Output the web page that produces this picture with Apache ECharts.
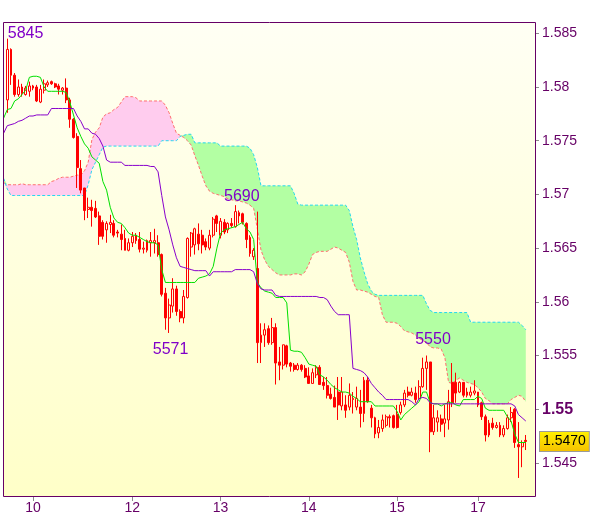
<!DOCTYPE html>
<html><head><meta charset="utf-8">
<script src="https://cdn.jsdelivr.net/npm/echarts@6/dist/echarts.min.js"></script>
<style>html,body{margin:0;padding:0;background:#fff;}#c{width:600px;height:519px;}</style>
</head><body><div id="c"></div>
<script>
// ---- axis labels ----
const dayLabels = ['10','12','13','14','15','17'];
const dayLabelSlots = [8,35,59,83,107,129];
const yTickValues = [1.545,1.55,1.555,1.56,1.565,1.57,1.575,1.58,1.585];
const boldTick = 1.55;
const lastPrice = 1.5470;

// ---- hourly candles (first slot is empty) ----
const opens = [1.5788,1.5835,1.5811,1.5793,1.5800,1.5793,1.5796,1.5801,1.5800,1.5786,
1.5797,1.5802,1.5805,1.5803,1.5801,1.5797,1.5799,1.5788,1.5770,1.5754,
1.5724,1.5706,1.5686,1.5688,1.5687,1.5680,1.5674,1.5667,1.5672,1.5673,
1.5665,1.5663,1.5659,1.5648,1.5655,1.5662,1.5658,1.5649,1.5648,1.5655,
1.5655,1.5655,1.5644,1.5608,1.5585,1.5596,1.5612,1.5591,1.5585,1.5604,
1.5651,1.5653,1.5663,1.5662,1.5656,1.5650,1.5662,1.5680,1.5662,1.5674,
1.5667,1.5673,1.5670,1.5683,1.5682,1.5673,1.5660,1.5642,1.5631,1.5562,
1.5569,1.5575,1.5562,1.5576,1.5544,1.5541,1.5559,1.5543,1.5541,1.5537,
1.5541,1.5538,1.5531,1.5524,1.5532,1.5539,1.5525,1.5522,1.5514,1.5511,
1.5516,1.5503,1.5504,1.5502,1.5509,1.5502,1.5502,1.5496,1.5527,1.5501,
1.5492,1.5478,1.5482,1.5485,1.5493,1.5494,1.5495,1.5497,1.5504,1.5516,
1.5513,1.5515,1.5510,1.5521,1.5538,1.5544,1.5479,1.5488,1.5491,1.5487,
1.5490,1.5525,1.5525,1.5516,1.5525,1.5516,1.5513,1.5515,1.5516,1.5506,
1.5493,1.5476,1.5487,1.5483,1.5485,1.5476,1.5482,1.5492,1.5500,1.5467,
1.5465,1.5471];
const closes = [1.5835,1.5811,1.5793,1.5800,1.5794,1.5799,1.5801,1.5799,1.5787,1.5798,
1.5803,1.5804,1.5803,1.5800,1.5798,1.5799,1.5788,1.5770,1.5753,1.5725,
1.5704,1.5685,1.5688,1.5685,1.5679,1.5661,1.5661,1.5673,1.5674,1.5662,
1.5664,1.5658,1.5648,1.5655,1.5661,1.5657,1.5649,1.5650,1.5657,1.5657,
1.5657,1.5644,1.5607,1.5585,1.5597,1.5612,1.5591,1.5585,1.5605,1.5659,
1.5664,1.5668,1.5654,1.5653,1.5651,1.5662,1.5677,1.5673,1.5675,1.5665,
1.5673,1.5671,1.5684,1.5680,1.5674,1.5658,1.5645,1.5648,1.5562,1.5569,
1.5574,1.5562,1.5576,1.5543,1.5541,1.5560,1.5542,1.5540,1.5537,1.5541,
1.5537,1.5530,1.5524,1.5534,1.5539,1.5523,1.5522,1.5513,1.5510,1.5502,
1.5504,1.5516,1.5499,1.5513,1.5510,1.5510,1.5496,1.5527,1.5507,1.5492,
1.5477,1.5483,1.5490,1.5493,1.5492,1.5483,1.5483,1.5504,1.5515,1.5513,
1.5516,1.5509,1.5521,1.5538,1.5544,1.5479,1.5492,1.5492,1.5486,1.5491,
1.5507,1.5506,1.5515,1.5525,1.5513,1.5513,1.5516,1.5517,1.5504,1.5493,
1.5476,1.5487,1.5483,1.5485,1.5476,1.5482,1.5492,1.5497,1.5469,1.5465,
1.5469,1.5470];
const highs = [1.5845,1.5836,1.5813,1.5807,1.5803,1.5801,1.5805,1.5802,1.5802,1.5802,
1.5807,1.5806,1.5806,1.5804,1.5803,1.5800,1.5808,1.5790,1.5771,1.5757,
1.5732,1.5706,1.5697,1.5695,1.5694,1.5684,1.5676,1.5675,1.5681,1.5676,
1.5667,1.5672,1.5667,1.5659,1.5665,1.5664,1.5665,1.5656,1.5658,1.5665,
1.5668,1.5662,1.5645,1.5613,1.5603,1.5622,1.5615,1.5593,1.5611,1.5660,
1.5665,1.5669,1.5673,1.5667,1.5659,1.5667,1.5679,1.5681,1.5678,1.5677,
1.5674,1.5678,1.5690,1.5685,1.5683,1.5674,1.5662,1.5650,1.5684,1.5580,
1.5580,1.5578,1.5585,1.5580,1.5558,1.5560,1.5560,1.5544,1.5543,1.5543,
1.5542,1.5541,1.5539,1.5538,1.5541,1.5541,1.5530,1.5530,1.5520,1.5522,
1.5530,1.5530,1.5513,1.5524,1.5516,1.5521,1.5518,1.5530,1.5530,1.5504,
1.5493,1.5490,1.5495,1.5495,1.5495,1.5495,1.5504,1.5507,1.5518,1.5521,
1.5520,1.5521,1.5527,1.5548,1.5550,1.5544,1.5504,1.5499,1.5495,1.5504,
1.5518,1.5543,1.5534,1.5526,1.5525,1.5520,1.5521,1.5527,1.5516,1.5507,
1.5495,1.5490,1.5492,1.5488,1.5488,1.5485,1.5495,1.5502,1.5501,1.5488,
1.5471,1.5476];
const lows = [1.5776,1.5802,1.5791,1.5791,1.5791,1.5792,1.5791,1.5797,1.5786,1.5785,
1.5794,1.5800,1.5802,1.5799,1.5793,1.5793,1.5785,1.5762,1.5752,1.5706,
1.5701,1.5676,1.5678,1.5670,1.5678,1.5653,1.5658,1.5655,1.5664,1.5660,
1.5660,1.5648,1.5648,1.5647,1.5651,1.5654,1.5646,1.5645,1.5646,1.5642,
1.5645,1.5642,1.5605,1.5574,1.5571,1.5590,1.5587,1.5581,1.5580,1.5603,
1.5642,1.5644,1.5648,1.5645,1.5648,1.5648,1.5660,1.5665,1.5659,1.5663,
1.5664,1.5669,1.5669,1.5673,1.5672,1.5650,1.5642,1.5639,1.5543,1.5543,
1.5558,1.5560,1.5560,1.5523,1.5527,1.5537,1.5539,1.5535,1.5535,1.5536,
1.5535,1.5529,1.5524,1.5524,1.5529,1.5523,1.5518,1.5510,1.5509,1.5502,
1.5490,1.5499,1.5492,1.5499,1.5496,1.5499,1.5483,1.5488,1.5506,1.5483,
1.5473,1.5473,1.5479,1.5483,1.5483,1.5482,1.5482,1.5495,1.5502,1.5511,
1.5512,1.5506,1.5509,1.5520,1.5518,1.5460,1.5476,1.5479,1.5479,1.5474,
1.5481,1.5502,1.5506,1.5515,1.5511,1.5511,1.5511,1.5513,1.5502,1.5490,
1.5470,1.5474,1.5481,1.5482,1.5474,1.5474,1.5481,1.5488,1.5464,1.5436,
1.5446,1.5462];

// ---- Ichimoku lines, one value per slot ----
const tenkan = [1.5771,1.5779,1.5780,1.5787,1.5789,1.5793,1.5797,1.5809,1.5810,1.5810,
1.5809,1.5800,1.5796,1.5796,1.5796,1.5796,1.5796,1.5795,1.5786,1.5774,
1.5762,1.5754,1.5747,1.5743,1.5735,1.5732,1.5729,1.5712,1.5704,1.5688,
1.5678,1.5674,1.5673,1.5669,1.5664,1.5662,1.5662,1.5660,1.5658,1.5656,
1.5655,1.5655,1.5653,1.5630,1.5618,1.5618,1.5618,1.5618,1.5618,1.5618,
1.5618,1.5618,1.5618,1.5622,1.5623,1.5624,1.5626,1.5633,1.5650,1.5664,
1.5667,1.5668,1.5669,1.5670,1.5672,1.5674,1.5668,1.5665,1.5658,1.5618,
1.5613,1.5610,1.5609,1.5608,1.5604,1.5604,1.5604,1.5599,1.5555,1.5554,
1.5554,1.5553,1.5548,1.5542,1.5541,1.5540,1.5532,1.5530,1.5527,1.5523,
1.5520,1.5518,1.5516,1.5516,1.5515,1.5512,1.5510,1.5507,1.5507,1.5507,
1.5507,1.5503,1.5503,1.5503,1.5503,1.5503,1.5503,1.5498,1.5490,1.5495,
1.5498,1.5501,1.5504,1.5507,1.5516,1.5516,1.5506,1.5505,1.5505,1.5503,
1.5505,1.5506,1.5506,1.5504,1.5503,1.5509,1.5509,1.5509,1.5509,1.5512,
1.5510,1.5501,1.5499,1.5499,1.5499,1.5499,1.5499,1.5493,1.5489,1.5477,
1.5469,1.5469,1.5469];
const kijun = [1.5757,1.5764,1.5765,1.5766,1.5768,1.5769,1.5771,1.5773,1.5773,1.5774,
1.5774,1.5774,1.5774,1.5780,1.5780,1.5780,1.5780,1.5780,1.5780,1.5780,
1.5773,1.5768,1.5761,1.5761,1.5757,1.5756,1.5752,1.5745,1.5732,1.5730,
1.5730,1.5730,1.5730,1.5727,1.5727,1.5727,1.5727,1.5727,1.5727,1.5727,
1.5726,1.5726,1.5721,1.5699,1.5679,1.5667,1.5653,1.5641,1.5633,1.5632,
1.5631,1.5630,1.5629,1.5629,1.5629,1.5629,1.5624,1.5628,1.5628,1.5628,
1.5628,1.5628,1.5628,1.5630,1.5630,1.5630,1.5630,1.5630,1.5628,1.5617,
1.5612,1.5611,1.5611,1.5611,1.5606,1.5605,1.5605,1.5605,1.5605,1.5605,
1.5605,1.5605,1.5605,1.5605,1.5605,1.5605,1.5604,1.5604,1.5602,1.5596,
1.5591,1.5588,1.5588,1.5588,1.5588,1.5538,1.5537,1.5536,1.5534,1.5530,
1.5524,1.5520,1.5516,1.5513,1.5509,1.5509,1.5509,1.5509,1.5509,1.5509,
1.5509,1.5507,1.5504,1.5510,1.5511,1.5510,1.5506,1.5505,1.5505,1.5505,
1.5505,1.5505,1.5505,1.5505,1.5505,1.5505,1.5505,1.5505,1.5505,1.5505,
1.5505,1.5505,1.5505,1.5505,1.5505,1.5505,1.5505,1.5505,1.5505,1.5503,
1.5495,1.5492,1.5489];
const spanA = [1.5711,1.5709,1.5709,1.5709,1.5709,1.5710,1.5709,1.5709,1.5709,1.5709,
1.5709,1.5709,1.5709,1.5712,1.5713,1.5715,1.5716,1.5716,1.5716,1.5717,
1.5718,1.5718,1.5722,1.5730,1.5751,1.5758,1.5762,1.5772,1.5775,1.5776,
1.5779,1.5781,1.5786,1.5791,1.5791,1.5791,1.5790,1.5787,1.5787,1.5787,
1.5787,1.5787,1.5787,1.5787,1.5783,1.5776,1.5766,1.5757,1.5755,1.5753,
1.5750,1.5746,1.5736,1.5727,1.5717,1.5708,1.5703,1.5701,1.5700,1.5699,
1.5698,1.5696,1.5695,1.5694,1.5694,1.5693,1.5692,1.5690,1.5687,1.5668,
1.5648,1.5639,1.5633,1.5630,1.5627,1.5625,1.5625,1.5625,1.5625,1.5626,
1.5626,1.5625,1.5628,1.5635,1.5644,1.5646,1.5647,1.5647,1.5647,1.5649,
1.5651,1.5650,1.5648,1.5646,1.5637,1.5619,1.5611,1.5611,1.5610,1.5609,
1.5607,1.5605,1.5604,1.5588,1.5581,1.5581,1.5581,1.5580,1.5577,1.5573,
1.5572,1.5571,1.5569,1.5566,1.5564,1.5562,1.5558,1.5557,1.5557,1.5556,
1.5548,1.5525,1.5524,1.5527,1.5529,1.5527,1.5525,1.5524,1.5523,1.5520,
1.5516,1.5510,1.5508,1.5505,1.5505,1.5505,1.5505,1.5505,1.5509,1.5511,
1.5513,1.5512,1.5507];
const spanB = [1.5715,1.5705,1.5699,1.5699,1.5699,1.5699,1.5699,1.5699,1.5699,1.5699,
1.5699,1.5699,1.5699,1.5699,1.5699,1.5699,1.5699,1.5699,1.5699,1.5699,
1.5699,1.5699,1.5699,1.5709,1.5723,1.5730,1.5737,1.5744,1.5745,1.5745,
1.5745,1.5745,1.5745,1.5745,1.5745,1.5745,1.5745,1.5745,1.5745,1.5745,
1.5745,1.5745,1.5745,1.5750,1.5750,1.5750,1.5750,1.5750,1.5754,1.5755,
1.5756,1.5756,1.5748,1.5748,1.5748,1.5748,1.5748,1.5748,1.5748,1.5745,
1.5745,1.5745,1.5745,1.5745,1.5745,1.5745,1.5745,1.5743,1.5737,1.5725,
1.5708,1.5708,1.5708,1.5708,1.5708,1.5708,1.5708,1.5708,1.5708,1.5701,
1.5691,1.5690,1.5690,1.5690,1.5690,1.5690,1.5690,1.5690,1.5690,1.5690,
1.5690,1.5690,1.5690,1.5690,1.5685,1.5670,1.5658,1.5641,1.5628,1.5617,
1.5610,1.5607,1.5606,1.5606,1.5606,1.5606,1.5606,1.5606,1.5606,1.5606,
1.5606,1.5606,1.5606,1.5606,1.5606,1.5598,1.5592,1.5590,1.5590,1.5590,
1.5590,1.5590,1.5590,1.5590,1.5590,1.5590,1.5590,1.5581,1.5581,1.5581,
1.5581,1.5581,1.5581,1.5581,1.5581,1.5581,1.5581,1.5581,1.5581,1.5581,
1.5581,1.5578,1.5574];

// ---- high / low annotations (slot, price) ----
const extremeSlots = [1, 63, 45, 115];
const extremePrices = [1.5845, 1.5690, 1.5571, 1.5550];

// ---------------------------------------------------------------
const SLOT_COUNT = 145;
const slots = Array.from({length: SLOT_COUNT}, (_, i) => 'h' + i);
const labelMap = {};
dayLabelSlots.forEach((s, i) => { labelMap[s] = dayLabels[i]; });

const candleData = [['-','-','-','-']].concat(
  opens.map((o, i) => [o, closes[i], lows[i], highs[i]]));
const cloudBase = spanA.map((a, i) => Math.min(a, spanB[i]));
const pinkPart = spanA.map((a, i) => Math.max(a - spanB[i], 0));
const greenPart = spanA.map((a, i) => Math.max(spanB[i] - a, 0));

const PURPLE = '#660066';
const LBL = '#8000c8';
const FONT = 'Liberation Sans, Arial, sans-serif';

const markStyles = [
  {align:'left', verticalAlign:'bottom', offset:[1, 3]},
  {align:'center', verticalAlign:'bottom', offset:[7, 0]},
  {align:'center', verticalAlign:'top', offset:[2, 9]},
  {align:'center', verticalAlign:'bottom', offset:[7, -7]}
];

const chart = echarts.init(document.getElementById('c'));
const baseGraphics = [
  {type:'rect', z:-10, silent:true,
   shape:{x:3.5, y:22.5, width:532, height:474},
   style:{fill:{type:'linear', x:0, y:0, x2:0, y2:1,
     colorStops:[{offset:0, color:'#fffff4'},{offset:1, color:'#ffffc8'}]}, stroke:null}},
  {type:'rect', z:100, silent:true,
   shape:{x:3.5, y:22.5, width:532, height:474},
   style:{fill:null, stroke:PURPLE, lineWidth:1}}
];
chart.setOption({
  animation: false,
  backgroundColor: '#ffffff',
  grid: {left: 1.78, top: 23, width: 533.2, bottom: 23, containLabel: false},
  graphic: baseGraphics,
  xAxis: {
    type: 'category', data: slots, boundaryGap: true,
    axisLine: {show: false},
    axisTick: {show: true, alignWithLabel: true, length: 5,
      interval: (i) => labelMap[i] !== undefined,
      lineStyle: {color: '#8c8c8c'}},
    axisLabel: {show: true, margin: 5, color: PURPLE, fontSize: 14, fontFamily: FONT,
      interval: (i) => labelMap[i] !== undefined,
      formatter: (v, i) => labelMap[i] || ''},
    splitLine: {show: false}
  },
  yAxis: {
    type: 'value', position: 'right', min: 1.54192, max: 1.58596, scale: true,
    axisLine: {show: false},
    axisTick: {show: true, length: 4, customValues: yTickValues, lineStyle: {color: '#8c8c8c'}},
    axisLabel: {show: true, margin: 7, customValues: yTickValues, color: PURPLE,
      fontSize: 14, fontFamily: FONT, hideOverlap: false,
      formatter: (v) => Math.abs(v - boldTick) < 1e-9 ? '{b|' + v + '}' : '{n|' + v + '}',
      rich: {n: {color: PURPLE, fontSize: 14, fontFamily: FONT},
             b: {color: PURPLE, fontSize: 16, fontWeight: 'bold', fontFamily: FONT}}},
    splitLine: {show: false}
  },
  series: [
    {type:'line', name:'cloudBase', data: cloudBase, stack:'cloud', symbol:'none',
     lineStyle:{width:0, opacity:0}, silent:true, z:1},
    {type:'line', name:'cloudPink', data: pinkPart, stack:'cloud', symbol:'none',
     lineStyle:{width:0, opacity:0}, areaStyle:{color:'#ffccee', opacity:1}, silent:true, z:1},
    {type:'line', name:'cloudGreen', data: greenPart, stack:'cloud', symbol:'none',
     lineStyle:{width:0, opacity:0}, areaStyle:{color:'#b3ffa3', opacity:1}, silent:true, z:1},
    {type:'line', name:'spanA', data: spanA, symbol:'none', silent:true, z:2,
     lineStyle:{color:'#ff6e6e', width:1, type:[3,2]}},
    {type:'line', name:'spanB', data: spanB, symbol:'none', silent:true, z:2,
     lineStyle:{color:'#22d8f0', width:1, type:[3,2]}},
    {type:'candlestick', name:'price', data: candleData, barWidth: 2.4, z:3,
     itemStyle:{color:'rgba(0,0,0,0)', color0:'#ff0000', borderColor:'#ff0000',
       borderColor0:'#ff0000', borderColorDoji:'#ff0000', borderWidth:1},
     markPoint:{
       symbol:'rect', symbolSize:1, silent:true, itemStyle:{color:'rgba(0,0,0,0)'},
       data: extremeSlots.map((s, i) => ({
         coord:[s, extremePrices[i]],
         label:Object.assign({show:true, position:[0,0], color:LBL, fontSize:16, fontFamily:FONT,
           formatter: String(Math.round(extremePrices[i] * 10000)).slice(-4)}, markStyles[i])
       }))
     }
    },
    {type:'line', name:'tenkan', data: tenkan, symbol:'none', silent:true, z:4,
     lineStyle:{color:'#00e000', width:1}},
    {type:'line', name:'kijun', data: kijun, symbol:'none', silent:true, z:4,
     lineStyle:{color:'#8800cc', width:1}}
  ]
});

// last-price tag placed through the y axis scale
const priceY = chart.convertToPixel({yAxisIndex: 0}, lastPrice);
chart.setOption({
  graphic: baseGraphics.concat([{
    type:'text', z:101, silent:true, x:540, y:priceY,
    style:{text: lastPrice.toFixed(4), fill:'#000', font:'14px ' + FONT,
      verticalAlign:'middle', align:'left', padding:[3,3,2,3],
      borderColor:'#9a9a9a', borderWidth:1,
      backgroundColor:{type:'linear', x:0, y:0, x2:0, y2:1,
        colorStops:[{offset:0, color:'#fff200'},{offset:1, color:'#f5c000'}]}}
  }])
});
</script>
</body></html>
